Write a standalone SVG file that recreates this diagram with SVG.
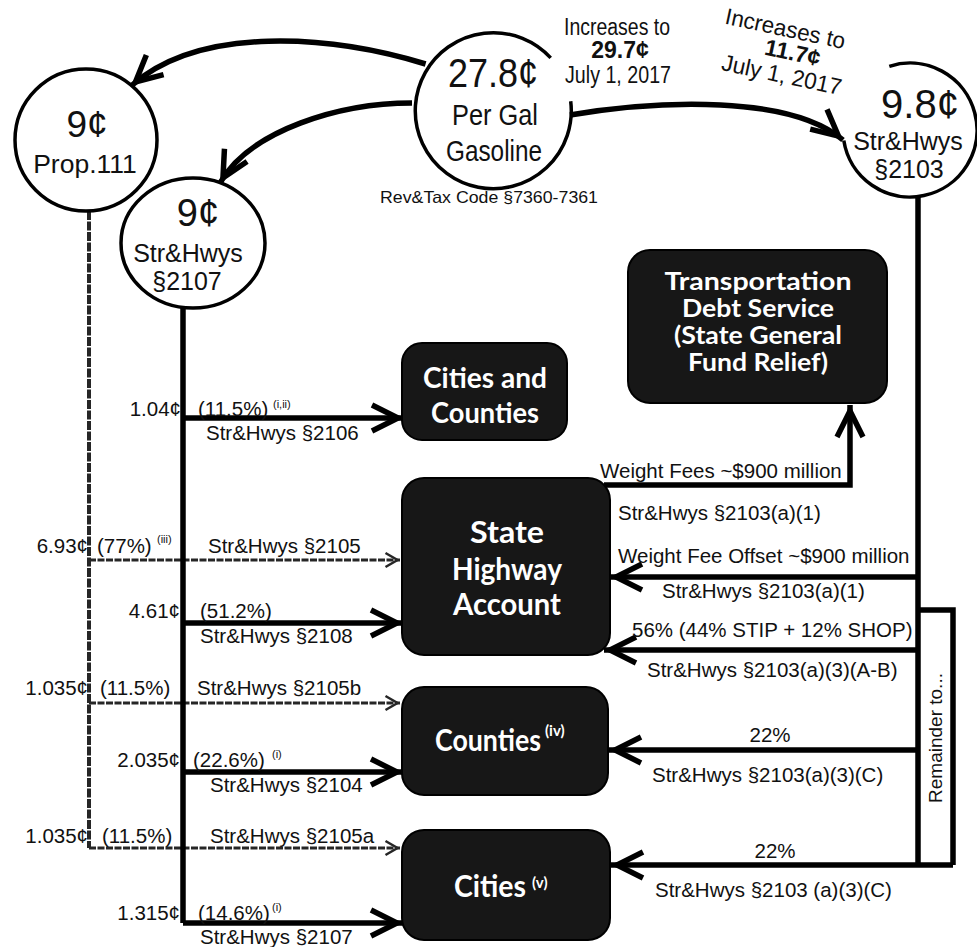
<svg xmlns="http://www.w3.org/2000/svg" width="977" height="947" viewBox="0 0 977 947">
<style>
.t{font-family:"Liberation Sans",Arial,sans-serif;fill:#111}
.l{font-size:20.5px}
.c{text-anchor:middle}
.e{text-anchor:end}
.sup{font-size:11px}
.b{font-weight:bold}
.box{fill:#171717;stroke:#000;stroke-width:2}
.bt{font-family:Lato,"Open Sans",sans-serif;font-weight:bold;fill:#fff;text-anchor:middle}
.bs{font-family:Lato,"Open Sans",sans-serif;font-weight:bold;fill:#fff;font-size:15px}
.circ{fill:none;stroke:#000;stroke-width:3.5}
.thick{fill:none;stroke:#000;stroke-width:5.5}
.thin{fill:none;stroke:#262626;stroke-width:3;stroke-dasharray:7 1.5}
.vthin{fill:none;stroke:#262626;stroke-width:4;stroke-dasharray:9 1.5}
</style>
<defs>
<marker id="ah" markerUnits="userSpaceOnUse" markerWidth="40" markerHeight="30" refX="32" refY="14" orient="auto" overflow="visible">
<path d="M0,1 L26,14 L0,27" fill="none" stroke="#000" stroke-width="5.5"/>
</marker>
<marker id="as" markerUnits="userSpaceOnUse" markerWidth="24" markerHeight="20" refX="16.5" refY="9" orient="auto" overflow="visible">
<path d="M2,2 L14,9 L2,16" fill="none" stroke="#262626" stroke-width="2.5"/>
</marker>
</defs>

<g id="connectors">
<path class="thick" d="M425.6,64 C330,35 200,25 131,86" marker-end="url(#ah)"/>
<path class="thick" d="M412,103 C340,103 250,130 220,183" marker-end="url(#ah)"/>
<path class="thick" d="M570,115 C660,100 790,95 843,140" marker-end="url(#ah)"/>
<path class="vthin" d="M89,211 V848"/>
<path class="thin" d="M89,560 H400" marker-end="url(#as)"/>
<path class="thin" d="M89,703 H400" marker-end="url(#as)"/>
<path class="thin" d="M89,848 H400" marker-end="url(#as)"/>
<path class="thick" d="M183,308 V923"/>
<path class="thick" d="M183,418 H404" marker-end="url(#ah)"/>
<path class="thick" d="M183,623 H403" marker-end="url(#ah)"/>
<path class="thick" d="M183,772 H403" marker-end="url(#ah)"/>
<path class="thick" d="M183,923 H403" marker-end="url(#ah)"/>
<path class="thick" d="M918,197 V865"/>
<path class="thick" d="M604,485 H850 V405" marker-end="url(#ah)"/>
<path class="thick" d="M918,577 H610" marker-end="url(#ah)"/>
<path class="thick" d="M918,650 H604" marker-end="url(#ah)"/>
<path class="thick" d="M918,750 H609" marker-end="url(#ah)"/>
<path class="thick" d="M953,865 H611" marker-end="url(#ah)"/>
<path class="thick" d="M918,610 H953 V865" stroke-width="4.5"/>
</g>

<g id="gasoline">
<path class="circ" stroke-width="5" d="M550.7,57.9 A78,78 0 1 0 570.7,101.2"/>
<text class="t c" x="493" y="87" font-size="40" textLength="90" lengthAdjust="spacingAndGlyphs">27.8¢</text>
<text class="t c" x="495" y="125" font-size="30" textLength="86" lengthAdjust="spacingAndGlyphs">Per Gal</text>
<text class="t c" x="494" y="161" font-size="30" textLength="96" lengthAdjust="spacingAndGlyphs">Gasoline</text>
<text class="t" x="380" y="203" font-size="16.5" textLength="218" lengthAdjust="spacingAndGlyphs">Rev&amp;Tax  Code §7360-7361</text>
</g>

<g id="increase1">
<text class="t c" x="617" y="35" font-size="23" textLength="106" lengthAdjust="spacingAndGlyphs">Increases to</text>
<text class="t c b" x="620" y="58" font-size="23">29.7¢</text>
<text class="t c" x="618" y="83" font-size="23" textLength="106" lengthAdjust="spacingAndGlyphs">July 1, 2017</text>
</g>

<g id="increase2" transform="rotate(12 790 55)">
<text class="t c" x="780" y="38" font-size="23" textLength="122" lengthAdjust="spacingAndGlyphs">Increases to</text>
<text class="t c b" x="792" y="60" font-size="23">11.7¢</text>
<text class="t c" x="786" y="84" font-size="23" textLength="122" lengthAdjust="spacingAndGlyphs">July 1, 2017</text>
</g>

<g id="prop111">
<circle class="circ" cx="86" cy="140" r="71"/>
<text class="t c" x="87" y="137" font-size="37">9¢</text>
<text class="t c" x="85" y="173" font-size="26.5">Prop.111</text>
</g>

<g id="sh2107">
<ellipse class="circ" cx="193" cy="243" rx="72" ry="65"/>
<text class="t c" x="198" y="226" font-size="38">9¢</text>
<text class="t c" x="188" y="262" font-size="25">Str&amp;Hwys</text>
<text class="t c" x="187" y="290" font-size="25">§2107</text>
</g>

<g id="sh2103">
<path class="circ" d="M889.3,66.3 A67,67 0 1 1 843.8,140.5"/>
<text class="t c" x="920" y="118" font-size="40">9.8¢</text>
<text class="t c" x="908" y="150" font-size="25">Str&amp;Hwys</text>
<text class="t c" x="909" y="178" font-size="25">§2103</text>
</g>

<g id="cities-counties">
<rect class="box" x="402" y="343" width="165" height="97" rx="20"/>
<text class="bt" x="485" y="388" font-size="29" textLength="124" lengthAdjust="spacingAndGlyphs">Cities and</text>
<text class="bt" x="485" y="423" font-size="29" textLength="108" lengthAdjust="spacingAndGlyphs">Counties</text>
</g>

<g id="transportation">
<rect class="box" x="628" y="250" width="259" height="153" rx="22"/>
<text class="bt" x="758" y="290" font-size="24" textLength="187" lengthAdjust="spacingAndGlyphs">Transportation</text>
<text class="bt" x="758" y="317" font-size="24" textLength="152" lengthAdjust="spacingAndGlyphs">Debt Service</text>
<text class="bt" x="758" y="344" font-size="24" textLength="168" lengthAdjust="spacingAndGlyphs">(State General</text>
<text class="bt" x="758" y="371" font-size="24" textLength="140" lengthAdjust="spacingAndGlyphs">Fund Relief)</text>
</g>

<g id="sha">
<rect class="box" x="402" y="478" width="208" height="177" rx="22"/>
<text class="bt" x="507" y="543" font-size="31" textLength="74" lengthAdjust="spacingAndGlyphs">State</text>
<text class="bt" x="507" y="580" font-size="31" textLength="110" lengthAdjust="spacingAndGlyphs">Highway</text>
<text class="bt" x="507" y="615" font-size="31" textLength="108" lengthAdjust="spacingAndGlyphs">Account</text>
</g>

<g id="counties">
<rect class="box" x="402" y="687" width="206" height="108" rx="22"/>
<text class="bt" x="488" y="751" font-size="30" textLength="106" lengthAdjust="spacingAndGlyphs">Counties</text>
<text class="bs" x="545" y="736">(iv)</text>
</g>

<g id="cities">
<rect class="box" x="402" y="830" width="208" height="110" rx="22"/>
<text class="bt" x="490" y="897" font-size="30" textLength="72" lengthAdjust="spacingAndGlyphs">Cities</text>
<text class="bs" x="532" y="888">(v)</text>
</g>

<g id="left-labels" class="t l">
<text class="e" x="181" y="416">1.04¢</text>
<text x="198" y="416">(11.5%)</text>
<text class="sup" x="273" y="408">(i,ii)</text>
<text x="206" y="440">Str&amp;Hwys §2106</text>
<text class="e" x="88" y="553">6.93¢</text>
<text x="97" y="553">(77%)</text>
<text class="sup" x="157" y="543">(iii)</text>
<text x="208" y="553">Str&amp;Hwys §2105</text>
<text class="e" x="180" y="618">4.61¢</text>
<text x="200" y="618">(51.2%)</text>
<text x="200" y="643">Str&amp;Hwys §2108</text>
<text class="e" x="88" y="695">1.035¢</text>
<text x="100" y="695">(11.5%)</text>
<text x="197" y="695">Str&amp;Hwys §2105b</text>
<text class="e" x="180" y="767">2.035¢</text>
<text x="193" y="767">(22.6%)</text>
<text class="sup" x="272" y="758">(i)</text>
<text x="210" y="792">Str&amp;Hwys §2104</text>
<text class="e" x="88" y="843">1.035¢</text>
<text x="102" y="843">(11.5%)</text>
<text x="210" y="843">Str&amp;Hwys §2105a</text>
<text class="e" x="180" y="920">1.315¢</text>
<text x="198" y="920">(14.6%)</text>
<text class="sup" x="272" y="911">(i)</text>
<text x="200" y="944">Str&amp;Hwys §2107</text>
</g>

<g id="right-labels" class="t l">
<text x="600" y="478">Weight Fees ~$900 million</text>
<text x="618" y="520">Str&amp;Hwys §2103(a)(1)</text>
<text x="618" y="563">Weight Fee Offset ~$900 million</text>
<text x="662" y="598">Str&amp;Hwys §2103(a)(1)</text>
<text x="632" y="637">56% (44% STIP + 12% SHOP)</text>
<text x="647" y="677">Str&amp;Hwys §2103(a)(3)(A-B)</text>
<text class="c" x="770" y="742">22%</text>
<text x="652" y="782">Str&amp;Hwys §2103(a)(3)(C)</text>
<text class="c" x="775" y="858">22%</text>
<text x="655" y="897">Str&amp;Hwys §2103 (a)(3)(C)</text>
<text class="c" transform="translate(942 738) rotate(-90)" font-size="19">Remainder to...</text>
</g>
</svg>
